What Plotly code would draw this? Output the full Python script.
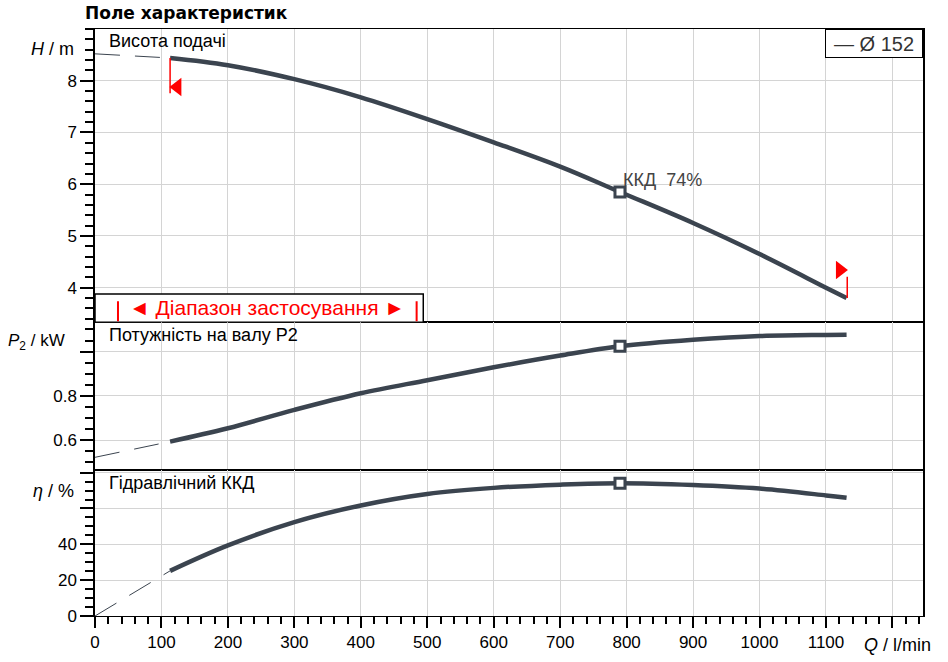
import plotly.graph_objects as go
from plotly.subplots import make_subplots

# extrapolated part (dashed, thin)
q_ext = [0, 113]
h_ext = [8.52, 8.44]
p_ext = [0.523, 0.594]
eta_ext = [0, 25.2]

# operating curve
q = [113, 200, 300, 400, 500, 600, 700, 790, 900, 1000, 1100, 1131]
h = [8.44, 8.30, 8.03, 7.68, 7.26, 6.81, 6.34, 5.85, 5.25, 4.65, 4.00, 3.80]
p2 = [0.594, 0.654, 0.737, 0.812, 0.871, 0.929, 0.982, 1.024, 1.053, 1.070, 1.075, 1.076]
eta = [25.2, 39.4, 52.4, 61.7, 68.1, 71.5, 73.3, 74.1, 73.1, 71.1, 67.3, 66.0]

# best efficiency point
bep_q = [790]
bep_h = [5.85]
bep_p = [1.024]
bep_eta = [74.1]

# application range flags
flag_q = [113, 1132]
flag_line_h = [[8.44, 7.76], [3.80, 4.21]]
flag_tri_q = [124, 1121]
flag_tri_h = [7.88, 4.34]

# range box (bottom of H panel)
box_q = [0, 494]
box_bar_q = [34.6, 484]

x_ticks = list(range(0, 1300, 100))
x_text = [str(v) for v in x_ticks[:-1]] + [""]

FONT = "Liberation Sans, Arial, sans-serif"
CURVE = "#3b444f"
GRID = "#d4d4d4"

fig = make_subplots(rows=3, cols=1, shared_xaxes=True, vertical_spacing=0)

for row, yy_ext, yy, bq, by in [(1, h_ext, h, bep_q, bep_h),
                                (2, p_ext, p2, bep_q, bep_p),
                                (3, eta_ext, eta, bep_q, bep_eta)]:
    fig.add_trace(go.Scatter(x=q_ext, y=yy_ext, mode="lines",
                             line=dict(color=CURVE, width=1, dash="25px,15px"),
                             showlegend=False, hoverinfo="skip"), row=row, col=1)
    fig.add_trace(go.Scatter(x=q, y=yy, mode="lines",
                             line=dict(color=CURVE, width=4.5, shape="spline", smoothing=1.0),
                             showlegend=False), row=row, col=1)
    fig.add_trace(go.Scatter(x=bq, y=by, mode="markers",
                             marker=dict(symbol="square", size=10, color="white",
                                         line=dict(color=CURVE, width=3)),
                             showlegend=False), row=row, col=1)

# red range flags
for i in range(2):
    fig.add_trace(go.Scatter(x=[flag_q[i], flag_q[i]], y=flag_line_h[i], mode="lines",
                             line=dict(color="red", width=1.5),
                             showlegend=False), row=1, col=1)
fig.add_trace(go.Scatter(x=flag_tri_q, y=flag_tri_h, mode="markers",
                         marker=dict(symbol=["triangle-left", "triangle-right"],
                                     size=16, color="red"),
                         showlegend=False), row=1, col=1)

# range box
fig.add_shape(type="rect", xref="x", yref="y", x0=box_q[0], x1=box_q[1],
              y0=3.33, y1=3.878, line=dict(color="black", width=1.5),
              fillcolor="white", layer="above")
for bq in box_bar_q:
    fig.add_shape(type="line", xref="x", yref="y", x0=bq, x1=bq,
                  y0=3.35, y1=3.735, line=dict(color="red", width=2))
fig.add_annotation(x=(box_bar_q[0] + box_bar_q[1]) / 2, y=3.62, xref="x", yref="y",
                   text="◄ Діапазон застосування ►", showarrow=False,
                   font=dict(size=21, color="red", family=FONT))

axis_common = dict(showline=True, mirror=True, linecolor="black", linewidth=1.5,
                   showgrid=True, gridcolor=GRID, gridwidth=1.2, zeroline=False,
                   automargin=False)
x_common = dict(axis_common, linewidth=1)

for i in (1, 2):
    fig.update_xaxes(range=[0, 1246], tickvals=x_ticks, showticklabels=False,
                     ticks="", row=i, col=1, **x_common)
fig.update_xaxes(range=[0, 1246], tickvals=x_ticks, ticktext=x_text,
                 ticks="outside", ticklen=11, tickwidth=1.5, tickcolor="black",
                 minor=dict(dtick=20, tick0=0, ticks="outside", ticklen=7,
                            tickcolor="black", showgrid=False),
                 row=3, col=1, **x_common)

yt = dict(ticks="outside", ticklen=13, tickwidth=1.5, tickcolor="black")
fig.update_yaxes(range=[3.33, 9.0], tickvals=[4, 5, 6, 7, 8],
                 minor=dict(dtick=0.2, tick0=0, ticks="outside", ticklen=8,
                            tickcolor="black", showgrid=False),
                 row=1, col=1, **yt, **axis_common)
fig.update_yaxes(range=[0.466, 1.132], tickvals=[0.6, 0.8, 1.0],
                 ticktext=["0.6", "0.8", " "],
                 minor=dict(dtick=0.05, tick0=0, ticks="outside", ticklen=8,
                            tickcolor="black", showgrid=False),
                 row=2, col=1, **yt, **axis_common)
fig.update_yaxes(range=[0, 81.5], tickvals=[0, 20, 40, 60, 80],
                 ticktext=["0", "20", "40", " ", " "],
                 minor=dict(dtick=5, tick0=0, ticks="outside", ticklen=8,
                            tickcolor="black", showgrid=False),
                 row=3, col=1, **yt, **axis_common)

fig.update_layout(yaxis=dict(domain=[0.5003, 1.0]),
                  yaxis2=dict(domain=[0.2488, 0.5003]),
                  yaxis3=dict(domain=[0.0, 0.2488]))

def note(text, x, y, xanchor="left", size=18, color="black", family=FONT):
    fig.add_annotation(text=text, x=x, y=y, xref="paper", yref="paper",
                       xanchor=xanchor, yanchor="middle", showarrow=False,
                       font=dict(size=size, color=color, family=family))

note("<b>Поле характеристик</b>", -0.014, 1.028, size=17, family="DejaVu Sans")
note("<i>H</i> / m", -0.023, 0.966, xanchor="right")
note("<i>P</i><sub>2</sub> / kW", -0.034, 0.4675, xanchor="right", size=17)
note("<i>η</i> / %", -0.023, 0.2136, xanchor="right")
note("<i>Q</i> / l/min", 0.9267, -0.049)
note("Висота подачі", 0.0145, 0.979)
note("Потужність на валу Р2", 0.0145, 0.479)
note("Гідравлічний ККД", 0.0145, 0.2272)
note("ККД  74%", 0.6355, 0.743, color="#444444")

fig.add_annotation(text="— Ø 152", x=1, y=1, xref="paper", yref="paper",
                   xanchor="right", yanchor="top", showarrow=False,
                   width=94, height=25, borderpad=1,
                   bordercolor="black", borderwidth=1,
                   bgcolor="white", font=dict(size=20, color="#333333", family=FONT))

fig.update_layout(width=948, height=662, plot_bgcolor="white", paper_bgcolor="white",
                  margin=dict(l=95, r=25, t=29, b=46),
                  font=dict(family=FONT, size=17, color="black"),
                  showlegend=False)

# drop the default page margin so the figure fills the window exactly
fig.write_html("out.html", config={"displayModeBar": False},
               post_script="document.body.style.margin='0';document.body.style.overflow='hidden';")
